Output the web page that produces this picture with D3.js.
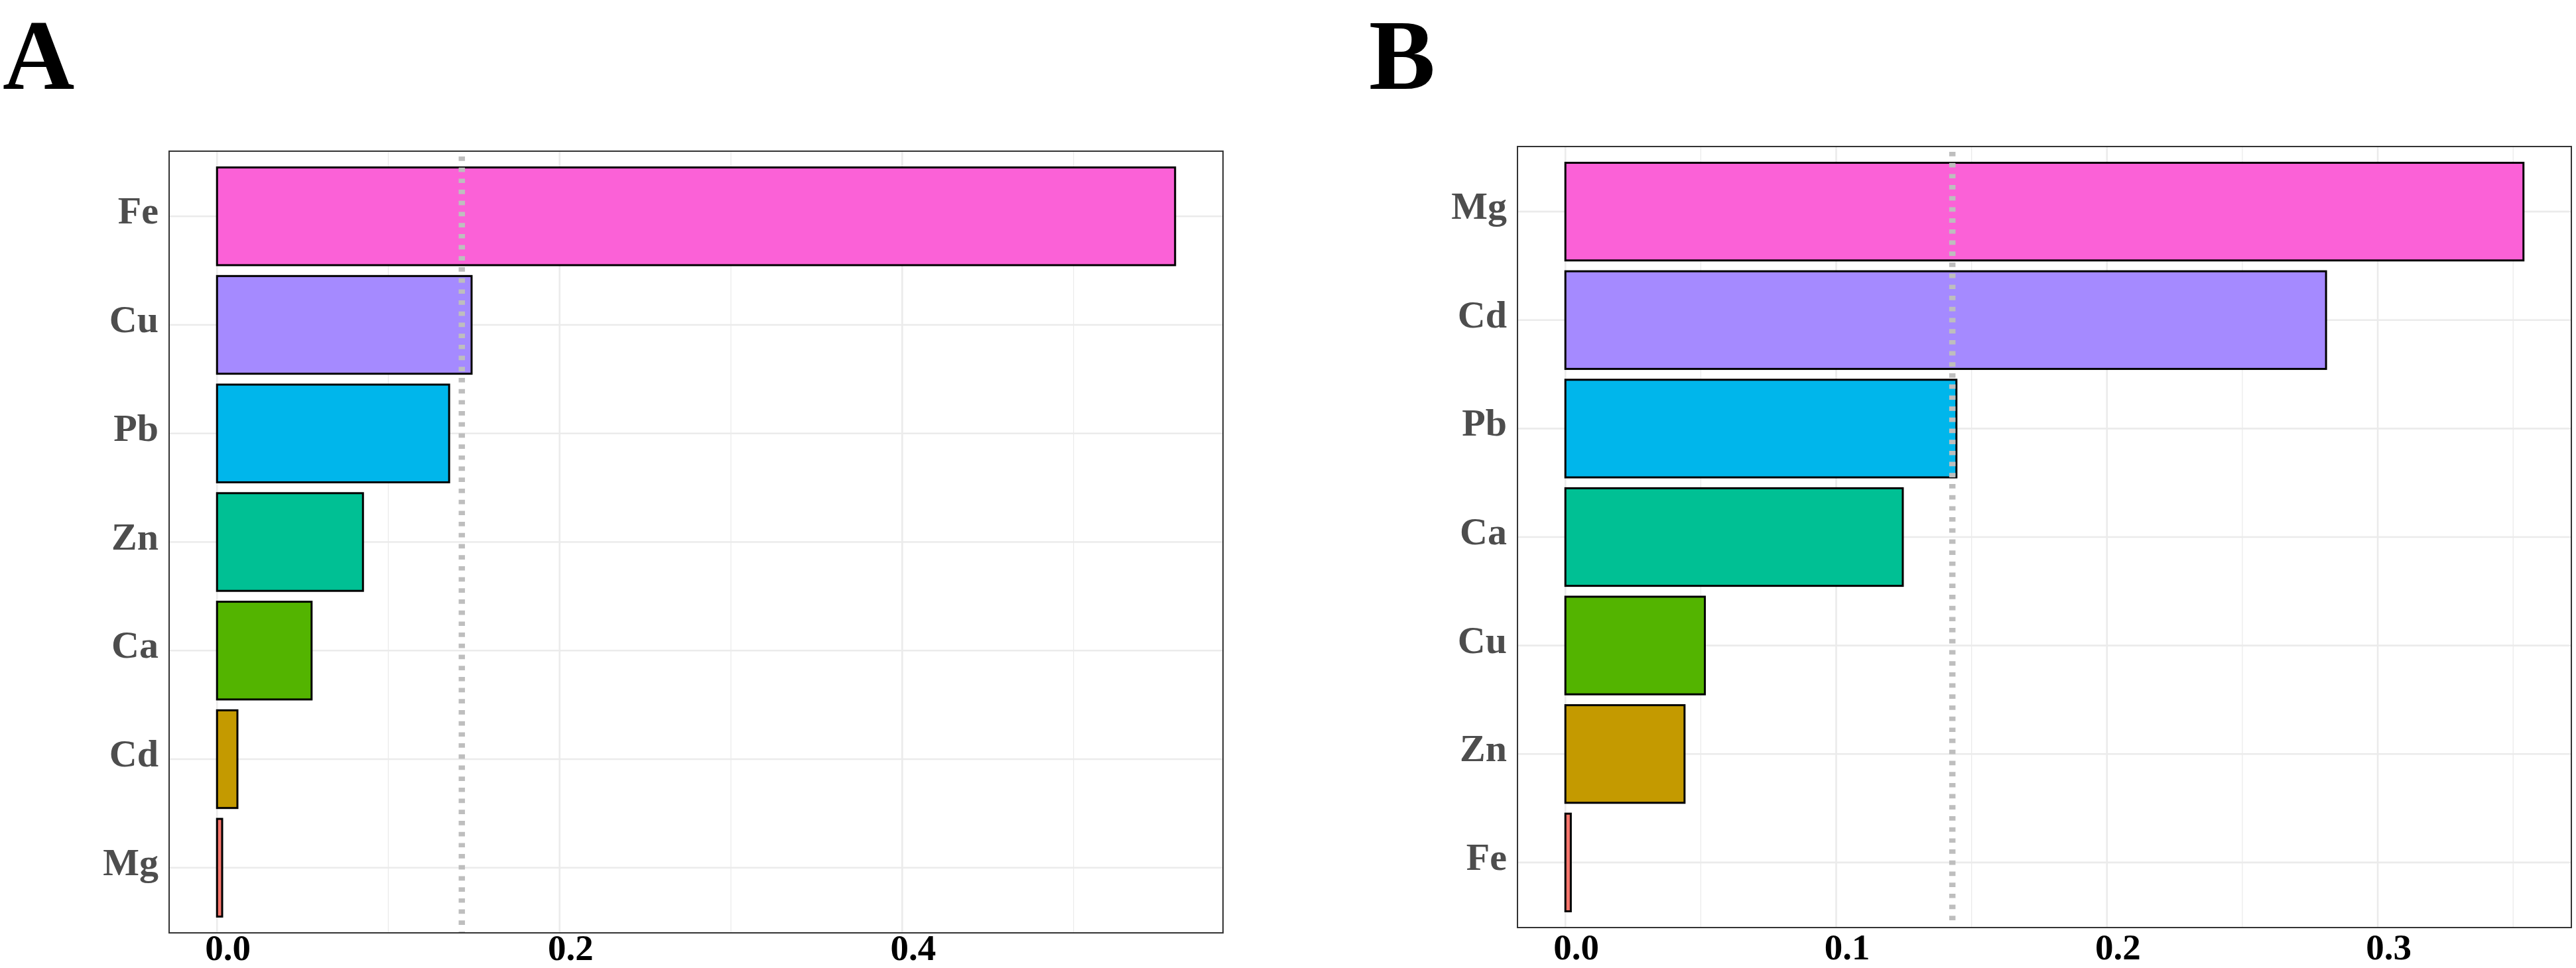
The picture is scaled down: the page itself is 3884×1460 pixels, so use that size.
<!DOCTYPE html>
<html>
<head>
<meta charset="utf-8">
<script src="https://cdn.jsdelivr.net/npm/d3@7"></script>
<style>
  html, body { margin: 0; padding: 0; background: #ffffff; }
  svg { display: block; }
</style>
</head>
<body>
<svg id="chart" width="3884" height="1460"></svg>
<script>
// ---------- data (categories listed top to bottom) ----------
const catsA = ["Fe", "Cu", "Pb", "Zn", "Ca", "Cd", "Mg"];
const valsA = [0.5593, 0.1486, 0.1355, 0.0852, 0.0552, 0.0119, 0.0030];
const catsB = ["Mg", "Cd", "Pb", "Ca", "Cu", "Zn", "Fe"];
const valsB = [0.3538, 0.2809, 0.1444, 0.1246, 0.0515, 0.0440, 0.0020];
const barColors = ["#FB61D7", "#A58AFF", "#00B6EB", "#00C094", "#53B400", "#C49A00", "#F8766D"];
const ticksA = [0.0, 0.2, 0.4];
const minorA = [0.1, 0.3, 0.5];
const ticksB = [0.0, 0.1, 0.2, 0.3];
const minorB = [0.05, 0.15, 0.25, 0.35];
const refLine = 0.1429;
const panelLabels = ["A", "B"];

const svg = d3.select("#chart");
svg.append("rect").attr("width", 3884).attr("height", 1460).attr("fill", "#ffffff");

const FONT = "'Liberation Serif', 'Times New Roman', Times, serif";

function drawPanel(cfg) {
  const { cats, vals, ticks, minor, left, top, right, bottom, label, labelX, xPad } = cfg;
  const vmax = d3.max(vals);
  const x = d3.scaleLinear().domain([-0.05 * vmax, 1.05 * vmax]).range([left, right]);
  const y = d3.scaleBand().domain(cats).range([top, bottom]).paddingInner(0.1).paddingOuter(0.15);
  const g = svg.append("g");

  // grid
  g.selectAll(".minor").data(minor).enter().append("line")
    .attr("x1", d => x(d)).attr("x2", d => x(d)).attr("y1", top).attr("y2", bottom)
    .attr("stroke", "#EBEBEB").attr("stroke-width", 1.3);
  g.selectAll(".majorx").data(ticks).enter().append("line")
    .attr("x1", d => x(d)).attr("x2", d => x(d)).attr("y1", top).attr("y2", bottom)
    .attr("stroke", "#EBEBEB").attr("stroke-width", 2.6);
  g.selectAll(".majory").data(cats).enter().append("line")
    .attr("x1", left).attr("x2", right)
    .attr("y1", d => y(d) + y.bandwidth() / 2).attr("y2", d => y(d) + y.bandwidth() / 2)
    .attr("stroke", "#EBEBEB").attr("stroke-width", 2.6);

  // bars
  g.selectAll(".bar").data(cats).enter().append("rect")
    .attr("x", x(0))
    .attr("y", d => y(d))
    .attr("width", (d, i) => x(vals[i]) - x(0))
    .attr("height", y.bandwidth())
    .attr("fill", (d, i) => barColors[i])
    .attr("stroke", "#000000").attr("stroke-width", 3);

  // reference dotted line
  g.append("line")
    .attr("x1", x(refLine)).attr("x2", x(refLine)).attr("y1", top).attr("y2", bottom)
    .attr("stroke", "#BEBEBE").attr("stroke-width", 9.5)
    .attr("stroke-dasharray", "6.7 10").attr("stroke-dashoffset", 8.7);

  // border
  g.append("rect").attr("x", left).attr("y", top)
    .attr("width", right - left).attr("height", bottom - top)
    .attr("fill", "none").attr("stroke", "#333333").attr("stroke-width", 2);

  // x axis
  const xa = g.append("g").attr("transform", `translate(0,${bottom})`)
    .call(d3.axisBottom(x).tickValues(ticks).tickFormat(d3.format(".1f")).tickSize(0).tickPadding(xPad));
  xa.select(".domain").remove();
  xa.selectAll("text")
    .attr("dx", 16)
    .style("font-family", FONT).style("font-weight", "bold")
    .style("font-size", "55px").attr("fill", "#000000");

  // y axis
  const ya = g.append("g").attr("transform", `translate(${left},0)`)
    .call(d3.axisLeft(y).tickSize(0).tickPadding(16));
  ya.select(".domain").remove();
  ya.selectAll("text")
    .attr("dy", "0.19em")
    .style("font-family", FONT).style("font-weight", "bold")
    .style("font-size", "58px").attr("fill", "#4D4D4D");

  // panel letter
  svg.append("text").attr("x", labelX).attr("y", 134)
    .text(label)
    .style("font-family", FONT).style("font-weight", "bold")
    .style("font-size", "150px").attr("fill", "#000000");
}

drawPanel({ cats: catsA, vals: valsA, ticks: ticksA, minor: minorA,
  left: 255, top: 228, right: 1844, bottom: 1407, label: panelLabels[0], labelX: 4, xPad: 2 });
drawPanel({ cats: catsB, vals: valsB, ticks: ticksB, minor: minorB,
  left: 2288, top: 221, right: 3877, bottom: 1399, label: panelLabels[1], labelX: 2064, xPad: 9 });
</script>
</body>
</html>
